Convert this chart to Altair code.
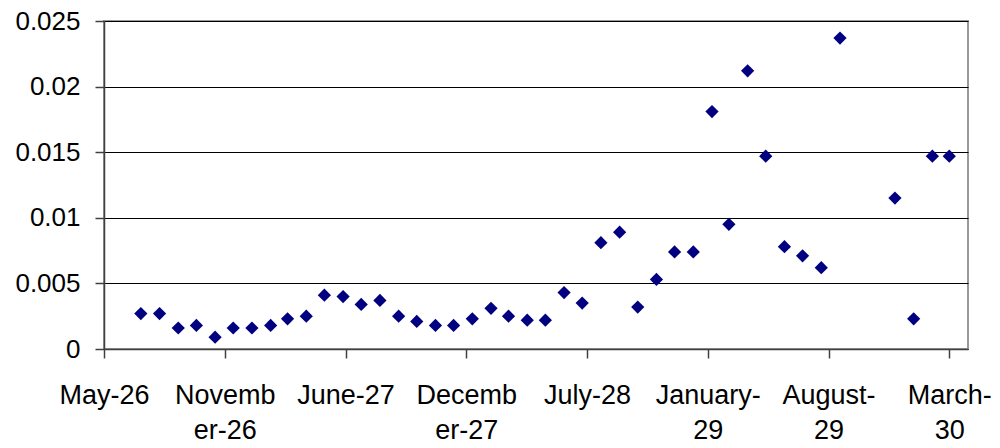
import altair as alt
import pandas as pd

months = pd.date_range("1926-07-01", "1930-03-01", freq="MS").strftime("%Y-%m-%d").tolist()
values = [0.0027, 0.0027, 0.0016, 0.0018, 0.0009, 0.0016, 0.0016, 0.0018, 0.0023, 0.0025,
          0.0041, 0.0040, 0.0034, 0.0037, 0.0025, 0.0021, 0.0018, 0.0018, 0.0023, 0.0031,
          0.0025, 0.0022, 0.0022, 0.0043, 0.0035, 0.0081, 0.0089, 0.0032, 0.0053, 0.0074,
          0.0074, 0.0181, 0.0095, 0.0212, 0.0147, 0.0078, 0.0071, 0.0062, 0.0237, None,
          None, 0.0115, 0.0023, 0.0147, 0.0147]

tick_dates = ["1926-05-01", "1926-11-17", "1927-06-05", "1927-12-22",
              "1928-07-09", "1929-01-25", "1929-08-13", "1930-03-01"]
tick_labels = ["May-26", "Novemb|er-26", "June-27", "Decemb|er-27",
               "July-28", "January-|29", "August-|29", "March-|30"]
y_ticks = [0, 0.005, 0.01, 0.015, 0.02, 0.025]

df = pd.DataFrame({"date": months, "value": values}).dropna()

def dt(s):
    y, m, d = (int(p) for p in s.split("-"))
    return alt.DateTime(year=y, month=m, date=d, utc=True)

expr = "''"
for d, lab in zip(reversed(tick_dates), reversed(tick_labels)):
    expr = f"utcFormat(datum.value, '%Y-%m-%d') == '{d}' ? '{lab}' : ({expr})"
expr = f"split({expr}, '|')"

FONT = "Liberation Sans"

chart = alt.Chart(df).mark_point(
    shape="diamond", filled=True, size=175, color="#000080", opacity=1
).encode(
    x=alt.X("date:T",
            scale=alt.Scale(type="utc", domain=[dt("1926-05-01"), dt("1930-04-01")], nice=False),
            axis=alt.Axis(values=[dt(d) for d in tick_dates], labelExpr=expr, title=None,
                          grid=False, labelOverlap=False, labelFlush=False, labelBound=False,
                          tickSize=9, tickColor="#404040", tickWidth=1.5,
                          domainColor="#404040", domainWidth=1.5,
                          labelPadding=24, labelFontSize=27, labelFont=FONT,
                          labelColor="black", labelLineHeight=35, labelAlign="center")),
    y=alt.Y("value:Q",
            scale=alt.Scale(domain=[0, 0.025], nice=False, zero=True),
            axis=alt.Axis(values=y_ticks, format="~g", title=None,
                          grid=True, gridColor="black", gridWidth=1,
                          tickSize=9, tickColor="#404040", tickWidth=1.5,
                          domainColor="#404040", domainWidth=1.5,
                          labelPadding=15, labelFontSize=26, labelFont=FONT,
                          labelColor="black")),
).properties(
    width=864, height=328,
    autosize=alt.AutoSizeParams(type="none"),
    padding={"left": 96, "top": 13, "right": 24, "bottom": 94},
).configure_view(
    stroke="#999999", strokeWidth=2
)

chart.save("out.html", embed_options={"renderer": "svg", "actions": False})
